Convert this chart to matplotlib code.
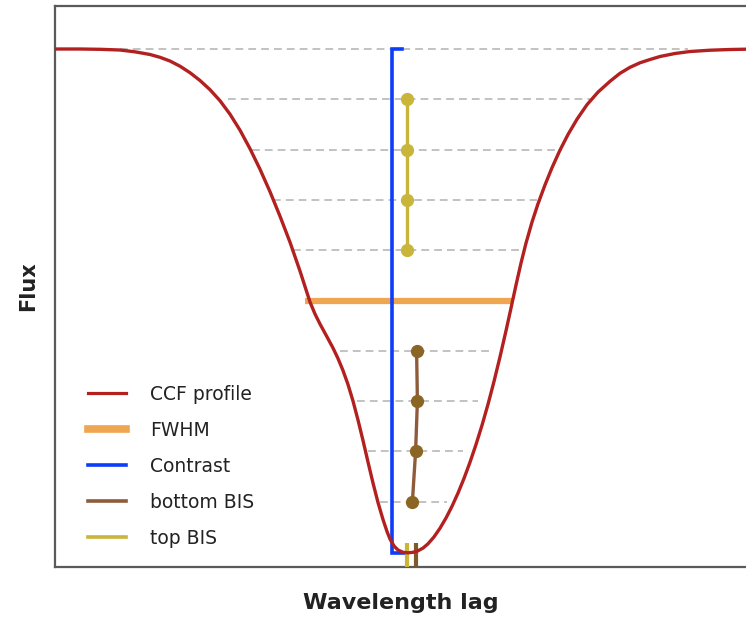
import matplotlib
matplotlib.use("Agg")
import matplotlib.pyplot as plt
import numpy as np
from matplotlib.lines import Line2D

# ---------------- data ----------------
ccf_lag = [-17.25, -16.0, -15.0, -14.0, -13.25, -12.5, -12.0, -11.5, -11.0, -10.5,
           -10.0, -9.5, -9.0, -8.5, -8.0, -7.5, -7.0, -6.5, -6.0, -5.5,
           -5.0, -4.5, -4.25, -4.0, -3.7, -3.35, -3.1, -2.85, -2.6, -2.35,
           -2.1, -1.85, -1.6, -1.35, -1.1, -0.85, -0.65, -0.5, -0.3, -0.1,
           0.15, 0.4, 0.65, 0.9, 1.15, 1.4, 1.7, 2.0, 2.3, 2.6,
           2.9, 3.2, 3.5, 3.8, 4.1, 4.4, 4.7, 5.0, 5.3, 5.55,
           5.8, 6.05, 6.3, 6.6, 6.9, 7.25, 7.6, 8.0, 8.4, 8.85,
           9.35, 9.9, 10.5, 11.0, 11.5, 12.0, 12.5, 13.0, 13.75, 14.5,
           15.5, 16.5, 17.3]
ccf_flux = [1.0, 1.0, 0.9994, 0.998, 0.9944, 0.9891, 0.9835, 0.9761, 0.9658, 0.9529,
            0.9374, 0.9191, 0.8972, 0.8704, 0.8386, 0.8018, 0.7610, 0.7163, 0.6676, 0.6159,
            0.5586, 0.4970, 0.4732, 0.4533, 0.4314, 0.4056, 0.3847, 0.3608, 0.3330, 0.3002,
            0.2624, 0.2217, 0.1789, 0.1372, 0.0984, 0.0646, 0.0408, 0.0258, 0.0119, 0.0040,
            -0.0006, -0.0016, -0.0006, 0.0024, 0.0078, 0.0163, 0.0300, 0.0473, 0.0676, 0.0909,
            0.1171, 0.1463, 0.1785, 0.2137, 0.2519, 0.2936, 0.3390, 0.3879, 0.4398, 0.4849,
            0.5306, 0.5744, 0.6141, 0.6559, 0.6922, 0.7298, 0.7640, 0.7990, 0.8300, 0.8604,
            0.8893, 0.9143, 0.9358, 0.9517, 0.9636, 0.9726, 0.9791, 0.9851, 0.9911, 0.9950,
            0.9976, 0.9990, 0.9996]

bis_levels = [1.0, 0.9, 0.8, 0.7, 0.6, 0.4, 0.3, 0.2, 0.1]
bis_left = [-14.0, -8.6, -7.4, -6.35, -5.35, -3.0, -2.15, -1.6, -1.0]
bis_right = [14.4, 9.5, 8.1, 6.85, 6.1, 4.6, 3.9, 3.15, 2.35]

top_bis_levels = [0.9, 0.8, 0.7, 0.6]
top_bis_lag = [0.33, 0.33, 0.33, 0.33]
bottom_bis_levels = [0.4, 0.3, 0.2, 0.1]
bottom_bis_lag = [0.83, 0.87, 0.78, 0.62]

fwhm_level = 0.5
fwhm_left, fwhm_right = -4.75, 5.65

contrast_lag = -0.4
contrast_top, contrast_bottom = 1.0, -0.002
contrast_tick_top, contrast_tick_bottom = 0.1, 0.25

legend_labels = ["CCF profile", "FWHM", "Contrast", "bottom BIS", "top BIS"]

# ---------------- colours ----------------
c_ccf = "#B32020"
c_fwhm = "#F0A551"
c_contrast = "#0B3DFA"
c_bot_line = "#8E5B3B"
c_bot_pt = "#8B6524"
c_top = "#C8B53A"
c_dash = "#C2C2C2"

# ---------------- figure ----------------
fig = plt.figure(figsize=(7.46, 6.21), dpi=100)
ax = fig.add_axes([55 / 746, 1 - 567 / 621, 1 - 55 / 746, (567 - 6) / 621])
ax.set_xlim(-17.25, 17.3)
ax.set_ylim(-0.0298, 1.0855)

for s in ["left", "top", "bottom"]:
    ax.spines[s].set_color("#5a5a5a")
    ax.spines[s].set_linewidth(1.6)
ax.spines["right"].set_visible(False)
ax.set_xticks([])
ax.set_yticks([])

# dashed reference levels
for lv, l, r in zip(bis_levels, bis_left, bis_right):
    ax.plot([l, r], [lv, lv], color=c_dash, lw=1.4, ls=(0, (4, 2.6)), zorder=1)

# FWHM
ax.plot([fwhm_left, fwhm_right], [fwhm_level, fwhm_level], color=c_fwhm,
        lw=4.5, solid_capstyle="butt", zorder=2)

# contrast bracket
ax.plot([contrast_tick_top, contrast_lag, contrast_lag, contrast_tick_bottom],
        [contrast_top, contrast_top, contrast_bottom, contrast_bottom],
        color=c_contrast, lw=2.6, solid_joinstyle="miter", zorder=3)

# BIS
ax.plot(top_bis_lag, top_bis_levels, color=c_top, lw=2.4, zorder=4)
ax.plot(top_bis_lag, top_bis_levels, "o", color=c_top, ms=8.5, zorder=5)
ax.plot(bottom_bis_lag, bottom_bis_levels, color=c_bot_line, lw=2.4, zorder=4)
ax.plot(bottom_bis_lag, bottom_bis_levels, "o", color=c_bot_pt, ms=8.5, zorder=5)

# mean BIS markers at the bottom
ax.vlines(np.mean(top_bis_lag), -0.03, 0.018, color=c_top, lw=3.0, zorder=4)
ax.vlines(np.mean(bottom_bis_lag), -0.03, 0.018, color="#7d5a2c", lw=3.0, zorder=4)

# CCF profile
ax.plot(ccf_lag, ccf_flux, color=c_ccf, lw=2.4, solid_joinstyle="round",
        solid_capstyle="round", zorder=6)

ax.set_xlabel("Wavelength lag", fontsize=16, fontweight="bold", color="#222222",
              labelpad=19)
ax.set_ylabel("Flux", fontsize=15, fontweight="bold", color="#222222", labelpad=12)

handles = [
    Line2D([], [], color=c_ccf, lw=2.3),
    Line2D([], [], color=c_fwhm, lw=5.5),
    Line2D([], [], color=c_contrast, lw=2.6),
    Line2D([], [], color=c_bot_line, lw=2.6),
    Line2D([], [], color=c_top, lw=2.6),
]
leg = fig.legend(handles, legend_labels, loc="upper left",
                 bbox_to_anchor=(88 / 746, 1 - 385 / 621), frameon=False,
                 fontsize=13.5, handlelength=2.0, handletextpad=1.3,
                 labelspacing=0.9, borderpad=0, borderaxespad=0)
for t in leg.get_texts():
    t.set_color("#222222")

fig.savefig("out.png", dpi=100)
